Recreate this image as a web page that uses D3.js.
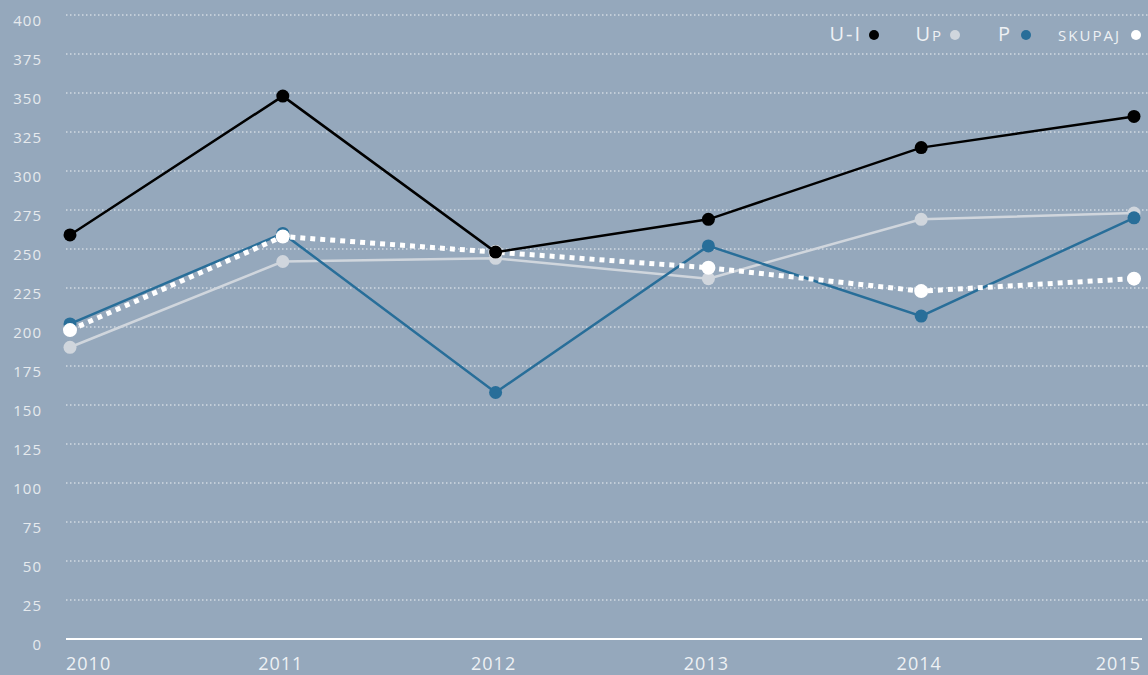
<!DOCTYPE html>
<html>
<head>
<meta charset="utf-8">
<script src="https://cdn.jsdelivr.net/npm/d3@7"></script>
<style>
  body { margin: 0; background: #95a8bc; }
  text { font-family: "Open Sans", "Lato", sans-serif; fill: #eef1f4; }
</style>
</head>
<body>
<div class="svg-container"></div>
<script>
var width = 1148, height = 675;

var years = ["2010", "2011", "2012", "2013", "2014", "2015"];
var yTicks = [0, 25, 50, 75, 100, 125, 150, 175, 200, 225, 250, 275, 300, 325, 350, 375, 400];
var ui     = [259, 348, 248, 269, 315, 335];
var up     = [187, 242, 244, 231, 269, 273];
var p      = [202, 260, 158, 252, 207, 270];
var skupaj = [198, 258, 248, 238, 223, 231];

var series = [
  { name: "Up",     values: up,     color: "#d0d6dd", width: 2.5, dash: null,  r: 6.5 },
  { name: "P",      values: p,      color: "#286e99", width: 2.5, dash: null,  r: 6.5 },
  { name: "skupaj", values: skupaj, color: "#ffffff", width: 5,   dash: "5,5", r: 7 },
  { name: "U-I",    values: ui,     color: "#000000", width: 2.5, dash: null,  r: 6.5 }
];
// legend labels: big part + small-caps part
var legendItems = [
  { big: "U-I", small: "",       color: "#000000", tx: 862,  cx: 874 },
  { big: "U",   small: "p",      color: "#d0d6dd", tx: 943,  cx: 955 },
  { big: "P",   small: "",       color: "#286e99", tx: 1012, cx: 1026 },
  { big: "",    small: "skupaj", color: "#ffffff", tx: 1121, cx: 1136 }
];

var svg = d3.select(".svg-container").append("svg")
            .attr("width", width)
            .attr("height", height)
            .style("background-color", "#95a8bc");

var x = d3.scalePoint().domain(years).range([70, 1134]);
var y = d3.scaleLinear().domain([0, 400]).range([639, 15]);

// grid
svg.selectAll("line.grid")
   .data(yTicks.filter(function(d) { return d > 0; }))
   .enter().append("line")
   .attr("class", "grid")
   .attr("x1", 66).attr("x2", width)
   .attr("y1", function(d) { return y(d); })
   .attr("y2", function(d) { return y(d); })
   .attr("stroke", "#ffffff")
   .attr("stroke-opacity", 0.85)
   .attr("stroke-width", 1)
   .attr("stroke-dasharray", "1.5,2.5");

svg.append("line")
   .attr("x1", 66).attr("x2", 1142)
   .attr("y1", y(0)).attr("y2", y(0))
   .attr("stroke", "#ffffff")
   .attr("stroke-width", 2);

// y labels
svg.selectAll("text.ytick")
   .data(yTicks)
   .enter().append("text")
   .attr("class", "ytick")
   .attr("x", 42)
   .attr("y", function(d) { return y(d) + 11; })
   .attr("text-anchor", "end")
   .style("font-size", "15px")
   .style("letter-spacing", "1px")
   .style("fill", "#e6eaee")
   .text(function(d) { return d; });

// x labels
svg.selectAll("text.xtick")
   .data(years)
   .enter().append("text")
   .attr("class", "xtick")
   .attr("x", function(d, i) {
     if (i == 0) return 66;
     if (i == years.length - 1) return 1141;
     return x(d) - 2;
   })
   .attr("y", 670)
   .attr("text-anchor", function(d, i) {
     if (i == 0) return "start";
     if (i == years.length - 1) return "end";
     return "middle";
   })
   .style("font-size", "18px")
   .style("letter-spacing", "1px")
   .text(function(d) { return d; });

// lines
var line = d3.line()
             .x(function(d, i) { return x(years[i]); })
             .y(function(d) { return y(d); });

series.forEach(function(s) {
  svg.append("path")
     .datum(s.values)
     .attr("d", line)
     .attr("fill", "none")
     .attr("stroke", s.color)
     .attr("stroke-width", s.width)
     .attr("stroke-dasharray", s.dash);
  svg.selectAll("circle.s" + s.name.replace("-", ""))
     .data(s.values)
     .enter().append("circle")
     .attr("cx", function(d, i) { return x(years[i]); })
     .attr("cy", function(d) { return y(d); })
     .attr("r", s.r)
     .style("fill", s.color);
});

// legend
var legend = svg.selectAll("g.legend")
                .data(legendItems)
                .enter().append("g")
                .attr("class", "legend");
var lt = legend.append("text")
      .attr("x", function(d) { return d.tx; })
      .attr("y", 41)
      .attr("text-anchor", "end")
      .style("letter-spacing", "2px");
lt.append("tspan")
  .style("font-size", "20px")
  .text(function(d) { return d.big; });
lt.append("tspan")
  .style("font-size", "15px")
  .style("text-transform", "uppercase")
  .text(function(d) { return d.small; });
legend.append("circle")
      .attr("cx", function(d) { return d.cx; })
      .attr("cy", 35)
      .attr("r", 5)
      .style("fill", function(d) { return d.color; });
</script>
</body>
</html>
